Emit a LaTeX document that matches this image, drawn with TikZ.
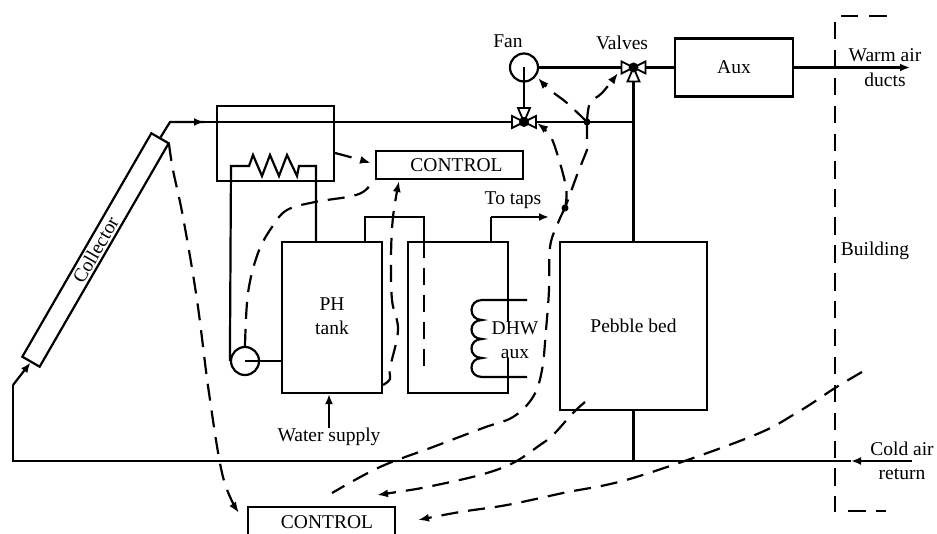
\documentclass[tikz,border=0pt]{standalone}
\usepackage{fontspec}
\setmainfont{Liberation Serif}
\usepackage{tikz}
\usetikzlibrary{arrows.meta}
\tikzset{every node/.style={font=\fontsize{19.5}{24}\selectfont, inner sep=0pt, align=center}}
\tikzset{pipe/.style={line width=2.2pt}}
\tikzset{flow/.style={line width=2.2pt, -{Latex[length=10pt,width=8pt]}}}
\tikzset{signal/.style={line width=2.2pt, dash pattern=on 17pt off 10pt}}
\tikzset{signalend/.style={signal, -{Latex[length=11pt,width=8pt]}}}
\tikzset{tank/.style={draw, line width=2.2pt}}
\tikzset{valve/.pic={
  \draw[line width=1.8pt, fill=white] (0,0) -- (-12,-6) -- (-12,6) -- cycle;
  \draw[line width=1.8pt, fill=white] (0,0) -- (12,-6) -- (12,6) -- cycle;
  \draw[line width=1.8pt, fill=white] (0,0) -- (-6,-14) -- (6,-14) -- cycle;
  \fill (0,0) circle (5);
}}

\begin{document}
\begin{tikzpicture}[x=1pt,y=-1pt]
\useasboundingbox (0,0) rectangle (937,534);
% tanks and boxes
\node[tank, rotate=60, minimum width=258pt, minimum height=20pt] (collector) at (95.5,250) {Collector};
\node[tank, minimum width=117pt, minimum height=75pt] (exchanger) at (275.5,143.5) {};
\node[tank, minimum width=147pt, minimum height=28pt] (controltop) at (449.5,165) {\hspace*{14pt}CONTROL};
\node[tank, minimum width=100pt, minimum height=151pt] (phtank) at (332,317.5) {};
\node[tank, minimum width=100pt, minimum height=151pt] (dhwtank) at (458,317.5) {};
\node[tank, minimum width=147pt, minimum height=168pt] (pebble) at (633.5,326) {Pebble bed};
\node[tank, minimum width=118pt, minimum height=58pt] (aux) at (734,67.5) {Aux};
\node[tank, minimum width=147pt, minimum height=30pt] (controlbot) at (321.5,522) {\hspace*{11pt}CONTROL};
\node[draw, pipe, circle, minimum size=28pt] (fan) at (524,67.5) {};
\node[draw, pipe, circle, minimum size=28pt] (pump) at (245,361) {};

% text
\node (fanlabel) at (508,41) {Fan};
\node (valvelabel) at (622,43) {Valves};
\node (phlabel) at (332,316) {PH\\tank};
\node[fill=white, inner xsep=2pt] (dhwlabel) at (515,340) {DHW\\aux};
\node (taplabel) at (513,200) {To taps};
\node (water) at (329,437) {Water supply};
\node (warmtop) at (885,55) {Warm air};
\node (warmbot) at (885,80) {ducts};
\node (build) at (875,251) {Building};
\node (coldtop) at (902,449) {Cold air};
\node (coldbot) at (902,474) {return};

% free ends and corners
\coordinate (valveA) at (524,122);
\coordinate (valveB) at (633.5,67.5);
\coordinate (topbend) at (170,122);
\coordinate (topmark) at (204,122);
\coordinate (teeA) at (633.5,122);
\coordinate (lowbend) at (13,385);
\coordinate (lowcorner) at (13,461);
\coordinate (coldend) at (912,461);
\coordinate (coldmark) at (851,461);
\coordinate (warmend) at (910,67.5);

% air and water lines
\draw[pipe] (collector.east) -- (topbend) -- (topmark);
\draw[flow] (topbend) -- (topmark);
\draw[pipe] (topmark) -- (valveA) -- (teeA);
\draw[pipe] (fan.center) -- (valveA);
\draw[pipe] (fan) -- (valveB) -- (aux.west);
\draw[pipe] (valveB) -- (pebble.north);
\draw[pipe] (pebble.south) -- (pebble.south |- coldend);
\draw[flow] (aux.east) -- (warmend);
\draw[flow] (coldend) -- (coldmark);
\draw[pipe] (coldmark) -- (lowcorner) -- (lowbend);
\draw[flow] (lowbend) -- (collector.west);
\draw[flow] (water.north) -- (water.north |- phtank.south);
\draw[pipe] (pump.center) -- (pump.center -| phtank.west);

% heat exchanger coil
\coordinate (coilL) at (231,166);
\coordinate (coilR) at (316,166);
\draw[pipe] (pump.west) -- (coilL) -- (249,166) -- (253,155) -- (262,176) -- (270,155) -- (279,176) -- (287,155) -- (297,176) -- (299,166) -- (coilR) -- (coilR |- phtank.north);

% tank links
\coordinate (linkA) at (365,217);
\coordinate (linkB) at (424,217);
\coordinate (tapA) at (491,217);
\coordinate (tapB) at (549,217);
\coordinate (dipend) at (424,369);
\draw[pipe] (linkA |- phtank.north) -- (linkA) -- (linkB) -- (linkB |- dhwtank.north);
\draw[signal] (linkB |- dhwtank.north) -- (dipend);
\draw[pipe] (tapA |- dhwtank.north) -- (tapA);
\draw[flow] (tapA) -- (tapB);

% DHW aux coil
\coordinate (auxcoilA) at (527,300);
\coordinate (auxcoilB) at (527,377);
\draw[pipe] (auxcoilA) -- (482,300) .. controls (468,300) and (468,320) .. (482,320) .. controls (468,320) and (468,339) .. (482,339) .. controls (468,339) and (468,358) .. (482,358) .. controls (468,358) and (468,377) .. (482,377) -- (auxcoilB);

% building outline
\coordinate (buildA) at (887,16);
\coordinate (buildB) at (841,16);
\coordinate (buildC) at (835,22);
\coordinate (buildD) at (835,512);
\coordinate (buildE) at (886,511);
\coordinate (buildF) at (848,511);
\draw[line width=2.2pt, dash pattern=on 18pt off 11pt on 18pt off 50pt] (buildA) -- (buildB);
\draw[line width=2.2pt, dash pattern=on 17.5pt off 10.4pt] (buildC) -- (buildD);
\draw[line width=2.2pt, dash pattern=on 10pt off 10pt on 18pt off 50pt] (buildE) -- (buildF);

% valves
\pic at (valveA) {valve};
\pic[rotate=180] at (valveB) {valve};

% control signals
\coordinate (dotA) at (587,122);
\coordinate (dotB) at (565,208);
\fill (dotA) circle (3.5);
\fill (dotB) circle (3.5);
\draw[signal] plot[smooth, tension=0.6] coordinates {(pump.north) (248,293) (258,253) (272,227) (287,210) (315,202) (347,197) (363,192) (controltop.south west)};
\draw[signalend] plot[smooth] coordinates {(exchanger.east |- 0,153) (350,157) (371,163)};
\draw[signalend] plot[smooth, tension=0.6] coordinates {(phtank.east |- 0,385) (390,379) (390,368) (398,330) (392,300) (391,257) (393,217) (399,181)};
\draw[signalend] plot[smooth, tension=0.6] coordinates {(169,144) (173,170) (183,217) (197,300) (209,393) (223,477) (239,513)};
\draw[signal] plot[smooth, tension=0.6] coordinates {(dotB) (558,223) (550,247) (549,290) (546,330) (542,370) (533,397) (513,417) (483,428) (433,447) (380,467) (332,493)};
\draw[signalend] plot[smooth, tension=0.6] coordinates {(585,402) (573,413) (553,435) (540,445) (513,463) (480,475) (427,487) (397,492) (377,495)};
\draw[signalend] plot[smooth, tension=0.6] coordinates {(862,372) (835,388) (798,412) (750,437) (633,478) (563,493) (507,505) (460,512) (418,520)};
\draw[signalend] plot[smooth, tension=0.6] coordinates {(dotA) (567,103) (550,90) (538,78)};
\draw[signalend] plot[smooth, tension=0.6] coordinates {(dotA) (590,103) (602,93) (618,73)};
\draw[signal] (dotA) -- (587,150) -- (577,175) -- (dotB);
\draw[signalend] plot[smooth, tension=0.6] coordinates {(dotB) (566,187) (555,147) (548,133) (537,123)};
\end{tikzpicture}
\end{document}
